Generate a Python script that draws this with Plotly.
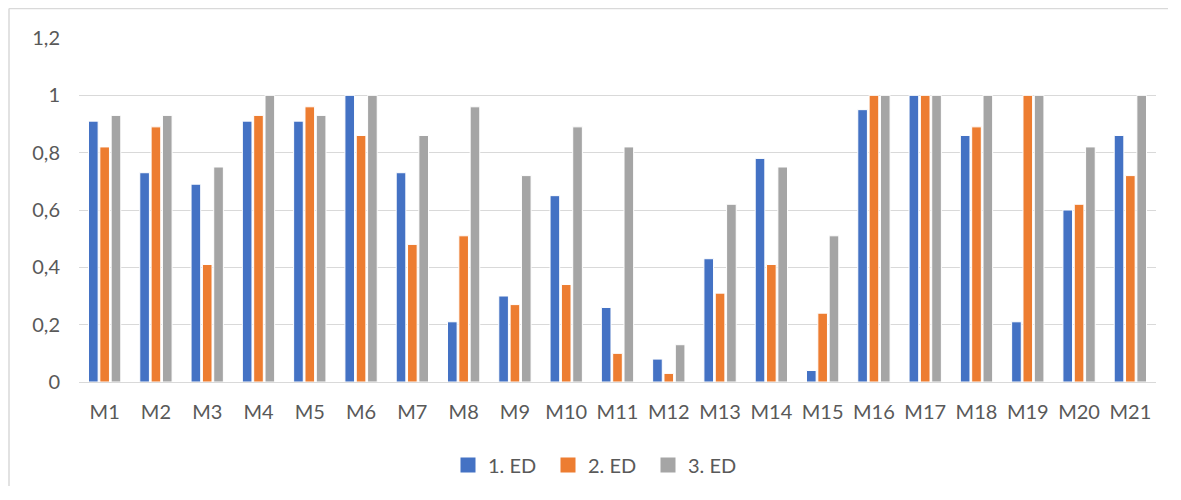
import plotly.graph_objects as go

categories = [f"M{i}" for i in range(1, 22)]
ed1 = [0.91, 0.73, 0.69, 0.91, 0.91, 1.0, 0.73, 0.21, 0.30, 0.65, 0.26, 0.08, 0.43, 0.78, 0.04, 0.95, 1.0, 0.86, 0.21, 0.60, 0.86]
ed2 = [0.82, 0.89, 0.41, 0.93, 0.96, 0.86, 0.48, 0.51, 0.27, 0.34, 0.10, 0.03, 0.31, 0.41, 0.24, 1.0, 1.0, 0.89, 1.0, 0.62, 0.72]
ed3 = [0.93, 0.93, 0.75, 1.0, 0.93, 1.0, 0.86, 0.96, 0.72, 0.89, 0.82, 0.13, 0.62, 0.75, 0.51, 1.0, 1.0, 1.0, 1.0, 0.82, 1.0]
series_names = ["1. ED", "2. ED", "3. ED"]
colors = ["#4472C4", "#ED7D31", "#A5A5A5"]
y_ticks = [0, 0.2, 0.4, 0.6, 0.8, 1.0, 1.2]
y_tick_text = ["0", "0,2", "0,4", "0,6", "0,8", "1", "1,2"]

fig = go.Figure()
for name, vals, col in zip(series_names, [ed1, ed2, ed3], colors):
    fig.add_trace(go.Bar(x=categories, y=vals, name=name, legendgroup=name, showlegend=False,
                         marker=dict(color=col, line=dict(color="white", width=1))))
# legend entries with larger square swatches
for name, col in zip(series_names, colors):
    fig.add_trace(go.Scatter(x=[None], y=[None], mode="markers", name=name, legendgroup=name,
                             marker=dict(symbol="square", size=15, color=col), hoverinfo="skip"))

# figure coordinates (page is offset by the 8px body margin)
W, H = 1160, 478
L, R, T, B = 71, 12, 30, 104
pw, ph = W - L - R, H - T - B
def px(x): return (x - L) / pw
def py(y): return (H - B - y) / ph

TXT = "#595959"
BORDER = "#D9D9D9"
fig.update_layout(
    width=W, height=H,
    margin=dict(l=L, r=R, t=T, b=B, autoexpand=False),
    barmode="group", bargap=0.337, bargroupgap=0.15,
    plot_bgcolor="white", paper_bgcolor="white",
    font=dict(family="Lato, Open Sans, sans-serif", size=20, color=TXT),
    xaxis=dict(showgrid=False, showline=True, linecolor=BORDER, linewidth=1,
               ticks="", ticklabelstandoff=12, tickfont=dict(size=20, color=TXT)),
    yaxis=dict(range=[0, 1.2], tickvals=y_ticks, ticktext=y_tick_text,
               showgrid=True, gridcolor=BORDER, gridwidth=1, zeroline=False,
               showline=False, ticks="", ticklabelstandoff=18,
               tickfont=dict(size=20, color=TXT)),
    legend=dict(orientation="h", xref="container", yref="container",
                x=590 / W, xanchor="center", y=1 - 457 / H, yanchor="middle",
                font=dict(size=20, color=TXT), entrywidth=55, entrywidthmode="pixels",
                itemwidth=30, traceorder="normal"),
    shapes=[
        dict(type="line", xref="paper", yref="paper", x0=px(1), x1=px(1), y0=py(0.5), y1=py(H),
             line=dict(color=BORDER, width=1.5)),
        dict(type="line", xref="paper", yref="paper", x0=px(1), x1=px(W), y0=py(0.5), y1=py(0.5),
             line=dict(color=BORDER, width=1.5)),
    ],
)
fig.write_html("out.html")
